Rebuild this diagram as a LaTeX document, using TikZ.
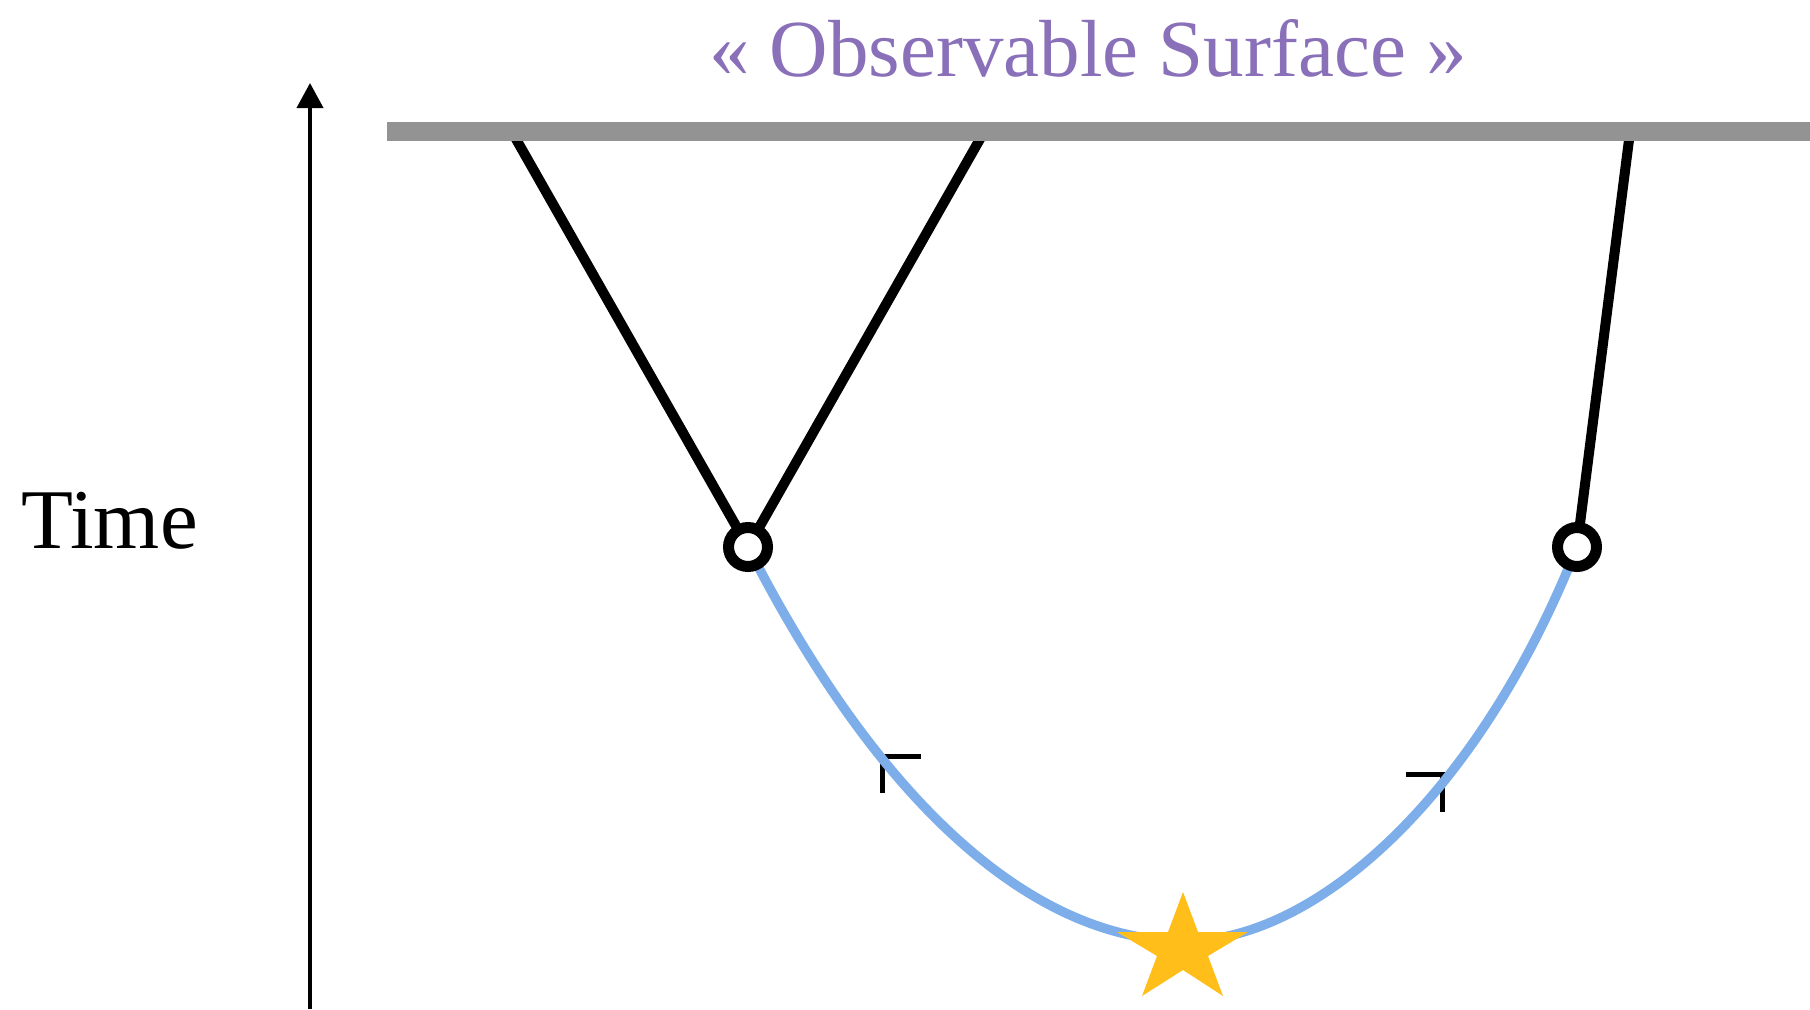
\documentclass[tikz,border=0pt]{standalone}
\usepackage{fontspec}
\setmainfont{Liberation Serif}
\usetikzlibrary{arrows.meta}
\definecolor{surfgray}{RGB}{147,147,147}
\definecolor{branchblue}{RGB}{126,174,234}
\definecolor{stargold}{RGB}{255,190,26}
\definecolor{titlepurple}{RGB}{137,112,185}
\begin{document}
\begin{tikzpicture}[x=0.5pt,y=-0.5pt,
  bigtext/.style={font=\fontsize{40.5}{48}\selectfont, inner sep=0pt},
  edge/.style={line width=5pt, draw=black},
  branch/.style={line width=4.7pt, draw=branchblue},
  tickmark/.style={line width=2.5pt, draw=black, line join=miter},
  ring/.style={circle, draw=black, fill=white, line width=5.5pt, minimum size=19.5pt, inner sep=0pt},
  axisarrow/.style={line width=2pt, draw=black, -{Triangle[width=13pt,length=12.5pt]}}]
\useasboundingbox (0,0) rectangle (1810,1009);

% texts
\node[bigtext, text=titlepurple, anchor=base] (title) at (1088,76) {« Observable Surface »};
\node[bigtext, font=\fontsize{42.5}{50}\selectfont, anchor=base west] (timelabel) at (21,548) {Time};

% time axis
\coordinate (axisbot) at (310,1009);
\coordinate (axistop) at (310,83);
\draw[axisarrow] (axisbot) -- (axistop);

% key points
\coordinate (p1) at (748,547);
\coordinate (p2) at (1577,547);
\coordinate (s1) at (512,132);
\coordinate (s2) at (984,132);
\coordinate (s3) at (1630,132);
\coordinate (vtx) at (1185,941);

% black lineages
\draw[edge] (s1) -- (p1) -- (s2);
\draw[edge] (s3) -- (p2);

% observable surface bar
\fill[surfgray] (387,122) rectangle (1810,141);

% tick marks
\draw[tickmark] (882,793) -- (882,756.5) -- (921,756.5);
\draw[tickmark] (1406,774) -- (1442.5,774) -- (1442.5,812);

% blue branch
\draw[branch] (p1) .. controls (885,815) and (1040,941) .. (vtx)
              .. controls (1315,941) and (1478,797) .. (p2);

% sample circles
\node[ring] (c1) at (p1) {};
\node[ring] (c2) at (p2) {};

% star
\fill[stargold] (1183,892) -- (1198,932) -- (1248,932) -- (1208,956) -- (1223,996)
  -- (1183,970) -- (1142,996) -- (1157,956) -- (1117,932) -- (1168,932) -- cycle;
\end{tikzpicture}
\end{document}
